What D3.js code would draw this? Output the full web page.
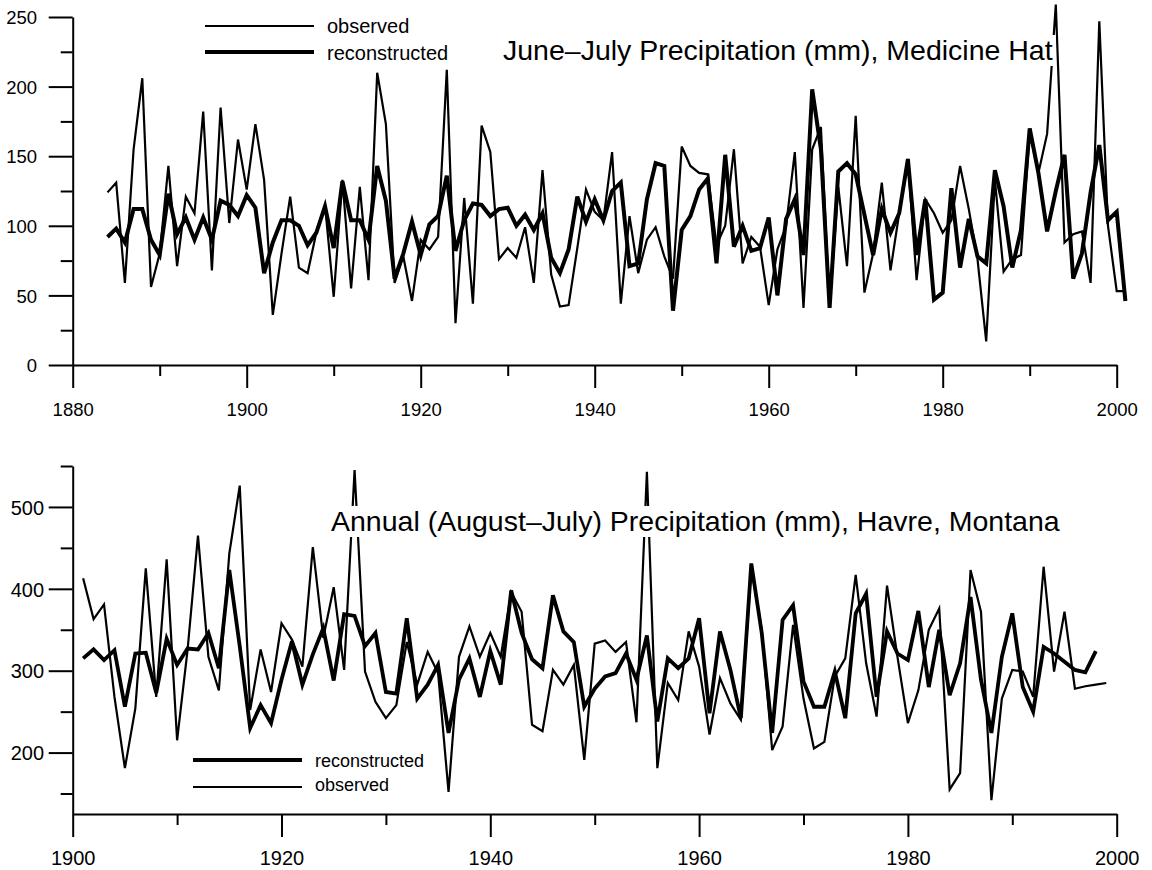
<!DOCTYPE html>
<html>
<head>
<meta charset="utf-8">
<script src="https://cdn.jsdelivr.net/npm/d3@7"></script>
<style>
  body { margin: 0; background: #fff; }
  svg { display: block; font-family: "Liberation Sans", Arial, Helvetica, sans-serif; }
</style>
</head>
<body>
<svg id="chart" width="1152" height="870"></svg>
<script>
// Medicine Hat, June-July precipitation (mm), 1884-2001
const medHatYears = d3.range(1884, 2002);
const medHatObserved = [
  124, 131, 59, 155, 206, 56, 80, 143, 71, 121, 109, 182, 68, 185, 102, 162,
  126, 173, 133, 36, 80, 121, 70, 66, 95, 115, 49, 133, 55, 128, 61, 210,
  173, 59, 78, 46, 90, 83, 92, 212, 30, 120, 44, 172, 153, 76, 84, 77,
  99, 59, 140, 65, 42, 43, 84, 126, 110, 104, 153, 44, 107, 66, 90, 99,
  78, 62, 157, 143, 138, 137, 86, 100, 155, 73, 92, 85, 43, 83, 100, 153,
  41, 155, 171, 41, 128, 71, 179, 52, 80, 131, 68, 109, 148, 61, 119, 109,
  95, 104, 143, 112, 76, 17, 133, 67, 76, 79, 167, 138, 166, 259, 88, 94,
  96, 59, 247, 100, 53, 53
];
const medHatReconstructed = [
  92, 98, 88, 112, 112, 90, 79, 123, 94, 106, 90, 106, 90, 118, 115, 107,
  122, 113, 66, 88, 104, 104, 100, 86, 95, 114, 84, 132, 104, 104, 90, 143,
  118, 62, 80, 103, 79, 101, 107, 136, 82, 104, 116, 115, 107, 112, 113, 100,
  108, 97, 109, 77, 66, 83, 121, 103, 119, 104, 125, 131, 71, 73, 119, 145,
  143, 39, 97, 107, 126, 134, 73, 151, 85, 100, 82, 84, 106, 50, 105, 119,
  79, 198, 155, 41, 139, 145, 137, 108, 79, 112, 95, 109, 148, 79, 119, 47,
  52, 127, 70, 105, 78, 73, 140, 114, 70, 97, 170, 138, 96, 125, 151, 62,
  80, 124, 158, 104, 110, 46
];

// Havre, Montana, annual (August-July) precipitation (mm)
const havreObsYears = d3.range(1901, 2000);
const havreObserved = [
  413, 363, 381, 268, 181, 254, 425, 268, 436, 215, 325, 465, 317, 276, 443, 526,
  252, 326, 274, 358, 338, 305, 451, 340, 402, 301, 545, 299, 262, 242, 258, 335,
  283, 323, 297, 152, 317, 354, 317, 346, 317, 396, 372, 234, 226, 301, 283, 307,
  191, 333, 337, 323, 335, 237, 543, 181, 285, 264, 348, 305, 222, 291, 260, 240,
  425, 350, 203, 232, 356, 266, 205, 213, 293, 315, 417, 309, 244, 404, 317, 236,
  276, 350, 376, 155, 175, 423, 372, 142, 266, 301, 299, 268, 427, 299, 372, 278,
  281, 283, 285
];
const havreRecYears = d3.range(1901, 1999);
const havreReconstructed = [
  315, 326, 313, 325, 256, 321, 322, 273, 339, 307, 327, 326, 346, 303, 423, 330,
  230, 258, 236, 289, 336, 283, 320, 352, 288, 369, 367, 330, 346, 274, 272, 364,
  266, 283, 307, 224, 289, 315, 268, 324, 283, 398, 346, 314, 303, 392, 348, 335,
  256, 278, 293, 297, 321, 289, 343, 238, 315, 303, 315, 364, 248, 348, 301, 242,
  431, 346, 224, 362, 380, 287, 256, 256, 299, 242, 370, 394, 268, 348, 321, 313,
  373, 280, 350, 270, 309, 390, 289, 224, 317, 370, 280, 250, 329, 321, 311, 301,
  298, 324
];

// axis ticks
const topYTicks = [0, 50, 100, 150, 200, 250];
const topYMinor = [25, 75, 125, 175, 225];
const topXTicks = [1880, 1900, 1920, 1940, 1960, 1980, 2000];
const topXMinor = [1890, 1910, 1930, 1950, 1970, 1990];
const botYTicks = [200, 300, 400, 500];
const botYMinor = [150, 250, 350, 450, 550];
const botXTicks = [1900, 1920, 1940, 1960, 1980, 2000];
const botXMinor = [1910, 1930, 1950, 1970, 1990];

const svg = d3.select("#chart");

function zip(years, values) {
  return years.map((yr, i) => ({ year: yr, value: values[i] }));
}

function drawPanel(p) {
  const g = svg.append("g");
  const x = d3.scaleLinear().domain(p.xDomain).range([72.7, 1116.7]);
  const y = d3.scaleLinear().domain(p.yDomain).range([p.bottom, p.top]);

  // x axis, major + minor
  const gx = g.append("g")
    .attr("transform", `translate(0,${p.bottom})`)
    .call(d3.axisBottom(x).tickValues(p.xTicks).tickSize(23).tickSizeOuter(0).tickFormat(d3.format("d")));
  gx.selectAll("text")
    .attr("y", 51).attr("dy", null);
  const gxm = g.append("g")
    .attr("transform", `translate(0,${p.bottom})`)
    .call(d3.axisBottom(x).tickValues(p.xMinor).tickSize(11).tickFormat(""));
  gxm.select(".domain").remove();

  // y axis, major + minor
  const gy = g.append("g")
    .attr("transform", `translate(${x.range()[0]},0)`)
    .call(d3.axisLeft(y).tickValues(p.yTicks).tickSize(24).tickSizeOuter(0));
  gy.selectAll("text")
    .attr("x", p.yLabelX).attr("dy", "0.36em");
  const gym = g.append("g")
    .attr("transform", `translate(${x.range()[0]},0)`)
    .call(d3.axisLeft(y).tickValues(p.yMinor).tickSize(12).tickFormat(""));
  gym.select(".domain").remove();

  g.selectAll(".domain, .tick line").attr("stroke", "#000").attr("stroke-width", 2);
  g.selectAll(".tick text")
    .attr("fill", "#000")
    .style("font-size", p.tickFont + "px")
    .style("font-family", "'Liberation Sans', Arial, Helvetica, sans-serif");

  const line = d3.line().x(d => x(d.year)).y(d => y(d.value));

  g.append("path")
    .datum(p.observed)
    .attr("fill", "none")
    .attr("stroke", "#000")
    .attr("stroke-width", 2.2)
    .attr("d", line);

  g.append("path")
    .datum(p.reconstructed)
    .attr("fill", "none")
    .attr("stroke", "#000")
    .attr("stroke-width", p.thick)
    .attr("d", line);

  // title with white box behind it
  const box = g.append("rect").attr("fill", "#fff");
  const title = g.append("text")
    .attr("x", p.titleX).attr("y", p.titleY)
    .style("font-size", "28.5px")
    .attr("fill", "#000")
    .text(p.title);
  const bb = title.node().getBBox();
  box.attr("x", bb.x - 3).attr("y", bb.y + 1)
    .attr("width", bb.width + 6).attr("height", bb.height - 1);

  // legend
  p.legend.forEach(item => {
    g.append("line")
      .attr("x1", p.legendX).attr("x2", p.legendX + 109)
      .attr("y1", item.y).attr("y2", item.y)
      .attr("stroke", "#000")
      .attr("stroke-width", item.width);
    g.append("text")
      .attr("x", p.legendX + 122).attr("y", item.y + item.dy)
      .style("font-size", p.legendFont + "px")
      .attr("fill", "#000")
      .text(item.label);
  });
}

drawPanel({
  xDomain: [1880, 2000], yDomain: [0, 250], top: 17, bottom: 365,
  xTicks: topXTicks, xMinor: topXMinor, yTicks: topYTicks, yMinor: topYMinor,
  tickFont: 18.5, yLabelX: -35.7,
  observed: zip(medHatYears, medHatObserved),
  reconstructed: zip(medHatYears, medHatReconstructed),
  thick: 4,
  title: "June\u2013July Precipitation (mm), Medicine Hat",
  titleX: 503, titleY: 60,
  legendX: 205, legendFont: 20,
  legend: [
    { label: "observed", y: 26, width: 2.2, dy: 7 },
    { label: "reconstructed", y: 52, width: 4, dy: 8 }
  ]
});

drawPanel({
  xDomain: [1900, 2000], yDomain: [125, 550], top: 466, bottom: 814,
  xTicks: botXTicks, xMinor: botXMinor, yTicks: botYTicks, yMinor: botYMinor,
  tickFont: 20, yLabelX: -28.7,
  observed: zip(havreObsYears, havreObserved),
  reconstructed: zip(havreRecYears, havreReconstructed),
  thick: 3.8,
  title: "Annual (August\u2013July) Precipitation (mm), Havre, Montana",
  titleX: 331, titleY: 531,
  legendX: 193, legendFont: 18,
  legend: [
    { label: "reconstructed", y: 760, width: 4, dy: 7 },
    { label: "observed", y: 787, width: 2.2, dy: 4 }
  ]
});
</script>
</body>
</html>
